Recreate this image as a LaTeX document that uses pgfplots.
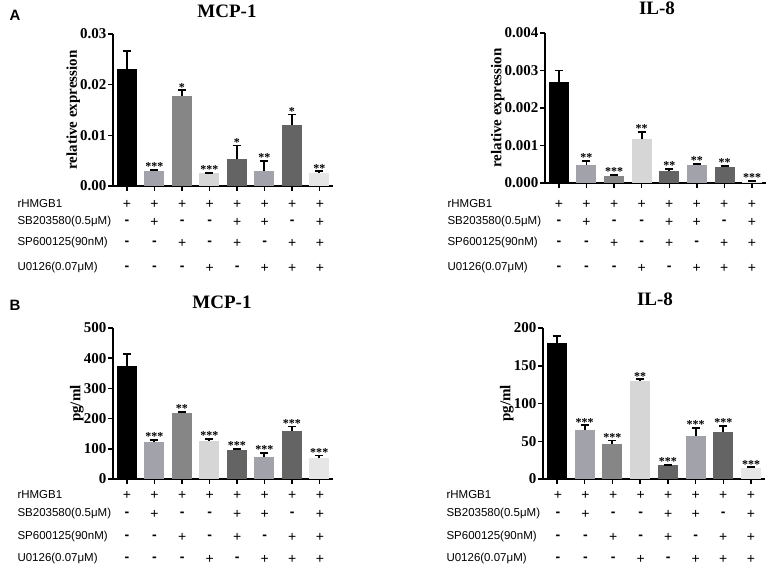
\documentclass[border=0pt]{standalone}
\usepackage{pgfplots}
\pgfplotsset{compat=1.18}
\usepackage{fontspec}
\setmainfont{Liberation Serif}
\newfontfamily\sans{Liberation Sans}
\definecolor{c1}{HTML}{000000}
\definecolor{c2}{HTML}{A2A2AA}
\definecolor{c3}{HTML}{868686}
\definecolor{c4}{HTML}{D6D6D6}
\definecolor{c5}{HTML}{646464}
\definecolor{c6}{HTML}{A2A2AA}
\definecolor{c7}{HTML}{646464}
\definecolor{c8}{HTML}{E6E6E6}
\pgfplotsset{
 panel/.style={
   scale only axis, anchor=south west,
   xmin=-0.5, xmax=7.5, ymin=0,
   axis lines*=left, axis line style={line width=1.7pt},
   tick style={line width=1.5pt, black}, tick align=outside, major tick length=5pt,
   xtick={0,...,7}, xticklabels={},
   minor tick num=0,
   /pgf/number format/assume math mode=true,
   yticklabel style={font=\bfseries\fontsize{15}{15}\selectfont, inner sep=1.5pt},
   ylabel style={font=\bfseries\fontsize{15}{15}\selectfont},
   ylabel shift=-5pt,
   scaled y ticks=false,
   clip=false,
 },
 br/.style={ybar, bar width=20pt, bar shift=0pt, fill=#1, draw=none,
   error bars/.cd, y dir=plus, y explicit,
   error bar style={line width=1.8pt, black},
   error mark options={rotate=90, line width=1.8pt, black, mark size=4pt}},
 st/.style={draw=none, mark=none, nodes near coords, point meta=explicit symbolic,
   nodes near coords style={anchor=south, font=\bfseries\fontsize{12}{12}\selectfont, inner sep=1pt, yshift=-2pt}},
}
\newcommand\signrow[3]{%
 \foreach \s [count=\i from 0] in {#3} {\node[font=\sans\fontsize{14}{14}\selectfont] at ({#1+\i*27.55}, #2) {\s};}}
\newcommand\rowlabels[5]{%
 \node[anchor=west, font=\sans\fontsize{11.5}{12}\selectfont] at (#1,#2) {rHMGB1};
 \node[anchor=west, font=\sans\fontsize{11.5}{12}\selectfont] at (#1,#3) {SB203580(0.5μM)};
 \node[anchor=west, font=\sans\fontsize{11.5}{12}\selectfont] at (#1,#4) {SP600125(90nM)};
 \node[anchor=west, font=\sans\fontsize{11.5}{12}\selectfont] at (#1,#5) {U0126(0.07μM)};
}
\newcommand\pl{+}
\newcommand\mi{\textbf{-}}
\newcommand\signtable[5]{%
 \signrow{#1}{#2}{\pl,\pl,\pl,\pl,\pl,\pl,\pl,\pl}
 \signrow{#1}{#3}{\mi,\pl,\mi,\mi,\pl,\pl,\mi,\pl}
 \signrow{#1}{#4}{\mi,\mi,\pl,\mi,\pl,\mi,\pl,\pl}
 \signrow{#1}{#5}{\mi,\mi,\mi,\pl,\mi,\pl,\pl,\pl}
}
\begin{document}
\begin{tikzpicture}[x=1pt,y=1pt]
\path[use as bounding box] (0pt,0pt) rectangle (767pt,565pt);

% ---------- A: MCP-1 ----------
\begin{axis}[panel, at={(113pt,379pt)}, width=220pt, height=152pt, ymax=0.03,
  ytick={0,0.01,0.02,0.03},
  yticklabel style={/pgf/number format/fixed, /pgf/number format/fixed zerofill, /pgf/number format/precision=2},
  ylabel={relative expression}]
\addplot[br=c1] coordinates {(0,0.0231) +- (0,0.0035)};
\addplot[br=c2] coordinates {(1,0.0030) +- (0,0.0002)};
\addplot[br=c3] coordinates {(2,0.0177) +- (0,0.0012)};
\addplot[br=c4] coordinates {(3,0.0025) +- (0,0.0001)};
\addplot[br=c5] coordinates {(4,0.0053) +- (0,0.0027)};
\addplot[br=c6] coordinates {(5,0.0030) +- (0,0.0020)};
\addplot[br=c7] coordinates {(6,0.0121) +- (0,0.0020)};
\addplot[br=c8] coordinates {(7,0.0026) +- (0,0.0003)};
\addplot[st] table[meta=s] {
x y s
1 0.0032 ***
2 0.0189 *
3 0.0026 ***
4 0.0080 *
5 0.0050 **
6 0.0141 *
7 0.0029 **
};
\end{axis}

% ---------- A: IL-8 ----------
\begin{axis}[panel, at={(545pt,382pt)}, width=221pt, height=150pt, ymax=0.004,
  ytick={0,0.001,0.002,0.003,0.004},
  yticklabel style={/pgf/number format/fixed, /pgf/number format/fixed zerofill, /pgf/number format/precision=3},
  ylabel={relative expression}]
\addplot[br=c1] coordinates {(0,0.00268) +- (0,0.00032)};
\addplot[br=c2] coordinates {(1,0.00048) +- (0,0.00011)};
\addplot[br=c3] coordinates {(2,0.00019) +- (0,0.00002)};
\addplot[br=c4] coordinates {(3,0.00116) +- (0,0.00020)};
\addplot[br=c5] coordinates {(4,0.00031) +- (0,0.00007)};
\addplot[br=c6] coordinates {(5,0.00049) +- (0,0.00002)};
\addplot[br=c7] coordinates {(6,0.00043) +- (0,0.00003)};
\addplot[br=c8] coordinates {(7,0.00003) +- (0,0.00002)};
\addplot[st] table[meta=s] {
x y s
1 0.00059 **
2 0.00021 ***
3 0.00136 **
4 0.00038 **
5 0.00051 **
6 0.00046 **
7 0.00005 ***
};
\end{axis}

% ---------- B: MCP-1 ----------
\begin{axis}[panel, at={(113pt,86pt)}, width=220pt, height=151pt, ymax=500,
  ytick={0,100,200,300,400,500},
  ylabel={pg/ml}]
\addplot[br=c1] coordinates {(0,374) +- (0,40)};
\addplot[br=c2] coordinates {(1,122) +- (0,8)};
\addplot[br=c3] coordinates {(2,217) +- (0,5)};
\addplot[br=c4] coordinates {(3,127) +- (0,5)};
\addplot[br=c5] coordinates {(4,97) +- (0,2)};
\addplot[br=c6] coordinates {(5,74) +- (0,13)};
\addplot[br=c7] coordinates {(6,160) +- (0,14)};
\addplot[br=c8] coordinates {(7,68) +- (0,10)};
\addplot[st] table[meta=s] {
x y s
1 130 ***
2 222 **
3 132 ***
4 99 ***
5 87 ***
6 174 ***
7 78 ***
};
\end{axis}

% ---------- B: IL-8 ----------
\begin{axis}[panel, at={(543pt,86pt)}, width=222pt, height=151pt, ymax=200,
  ytick={0,50,100,150,200},
  ylabel={pg/ml}]
\addplot[br=c1] coordinates {(0,180) +- (0,9)};
\addplot[br=c2] coordinates {(1,65) +- (0,6)};
\addplot[br=c3] coordinates {(2,47) +- (0,4)};
\addplot[br=c4] coordinates {(3,130) +- (0,2)};
\addplot[br=c5] coordinates {(4,18.5) +- (0,0.5)};
\addplot[br=c6] coordinates {(5,57) +- (0,11)};
\addplot[br=c7] coordinates {(6,62) +- (0,8)};
\addplot[br=c8] coordinates {(7,15) +- (0,0.5)};
\addplot[st] table[meta=s] {
x y s
1 71 ***
2 51 ***
3 132 **
4 19 ***
5 68 ***
6 70 ***
7 15.5 ***
};
\end{axis}

% titles and panel letters
\node[font=\bfseries\fontsize{19}{19}\selectfont] at (227pt,554pt) {MCP-1};
\node[font=\bfseries\fontsize{19}{19}\selectfont] at (657pt,557pt) {IL-8};
\node[font=\bfseries\fontsize{19}{19}\selectfont] at (222pt,263pt) {MCP-1};
\node[font=\bfseries\fontsize{19}{19}\selectfont] at (655pt,266pt) {IL-8};
\node[font=\sans\bfseries\fontsize{15}{15}\selectfont] at (15pt,550pt) {A};
\node[font=\sans\bfseries\fontsize{15}{15}\selectfont] at (15pt,260pt) {B};

% treatment tables
\rowlabels{14}{361}{343}{322}{297}
\signtable{127}{361}{343}{322}{297}
\rowlabels{444}{361}{343}{322}{297}
\signtable{559}{361}{343}{322}{297}
\rowlabels{14}{70}{51}{28}{6}
\signtable{127}{70}{51}{28}{6}
\rowlabels{443}{70}{51}{28}{6}
\signtable{558}{70}{51}{28}{6}
\end{tikzpicture}
\end{document}
